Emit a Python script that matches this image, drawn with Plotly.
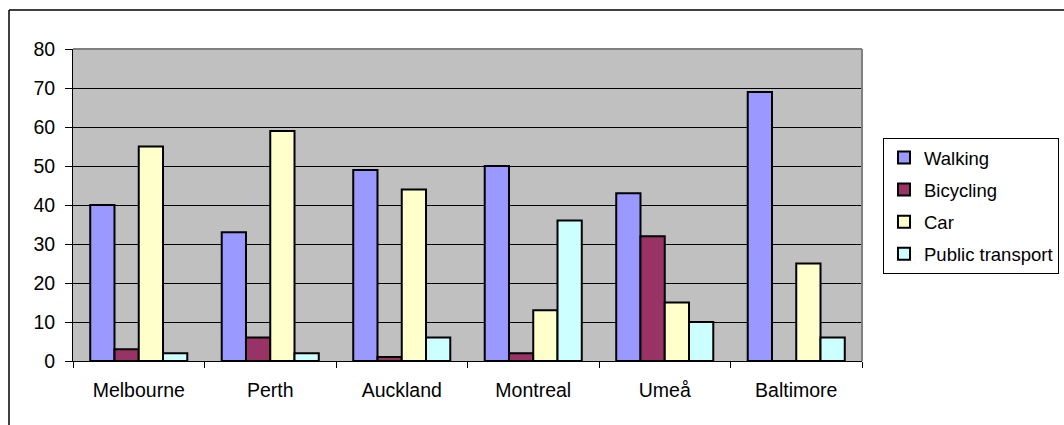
import plotly.graph_objects as go

cities = ["Melbourne", "Perth", "Auckland", "Montreal", "Umeå", "Baltimore"]
walking = [40, 33, 49, 50, 43, 69]
bicycling = [3, 6, 1, 2, 32, 0]
car = [55, 59, 44, 13, 15, 25]
public_transport = [2, 2, 6, 36, 10, 6]
y_ticks = [0, 10, 20, 30, 40, 50, 60, 70, 80]

series = [
    ("Walking", walking, "#9999FF"),
    ("Bicycling", bicycling, "#993366"),
    ("Car", car, "#FFFFCC"),
    ("Public transport", public_transport, "#CCFFFF"),
]

FONT = "Liberation Sans, Arial, sans-serif"
FS = 19.5

fig = go.Figure()
for i, (name, vals, col) in enumerate(series):
    fig.add_trace(go.Bar(
        x=cities, y=vals, name=name, legendgroup=f"g{i}",
        marker=dict(color=col, line=dict(color="black", width=2)),
    ))

L, R, T, B = 73, 202, 49, 64
W, H = 1064, 425
pw, ph = W - L - R, H - T - B

def px(x):
    return (x - L) / pw

def py(y):
    return (H - B - y) / ph

fig.update_layout(
    width=W, height=H,
    margin=dict(l=L, r=R, t=T, b=B, pad=0, autoexpand=False),
    paper_bgcolor="white",
    plot_bgcolor="#C0C0C0",
    barmode="group",
    bargap=0.262,
    bargroupgap=0,
    font=dict(family=FONT, size=FS, color="black"),
    showlegend=True,
    legend=dict(
        x=px(883), y=py(138), xanchor="left", yanchor="top",
        bordercolor="black", borderwidth=1, bgcolor="white",
        font=dict(family=FONT, size=18.5, color="black"),
        tracegroupgap=5,
        itemwidth=30,
    ),
    xaxis=dict(
        type="category",
        showgrid=False,
        showline=True, linecolor="black", linewidth=1,
        ticks="outside", tickson="boundaries", ticklen=6,
        tickcolor="black", tickwidth=1,
        ticklabelstandoff=12,
        tickfont=dict(family=FONT, size=FS),
    ),
    yaxis=dict(
        range=[0, 80],
        tickvals=y_ticks,
        showgrid=True, gridcolor="black", gridwidth=1,
        showline=True, linecolor="black", linewidth=1,
        ticks="outside", ticklen=7, tickcolor="black", tickwidth=1,
        ticklabelstandoff=6,
        zeroline=False,
        tickfont=dict(family=FONT, size=FS),
    ),
    shapes=[
        dict(type="line", xref="paper", yref="paper", x0=0, x1=1, y0=1, y1=1,
             line=dict(color="#808080", width=2), layer="above"),
        dict(type="line", xref="paper", yref="paper", x0=1, x1=1, y0=0, y1=1,
             line=dict(color="#808080", width=2), layer="above"),
        dict(type="line", xref="paper", yref="paper", x0=px(9), x1=px(1064), y0=py(10), y1=py(10),
             line=dict(color="black", width=1.5)),
        dict(type="line", xref="paper", yref="paper", x0=px(9), x1=px(9), y0=py(10), y1=py(425),
             line=dict(color="black", width=1.5)),
    ],
)

fig.write_html("out.html")
